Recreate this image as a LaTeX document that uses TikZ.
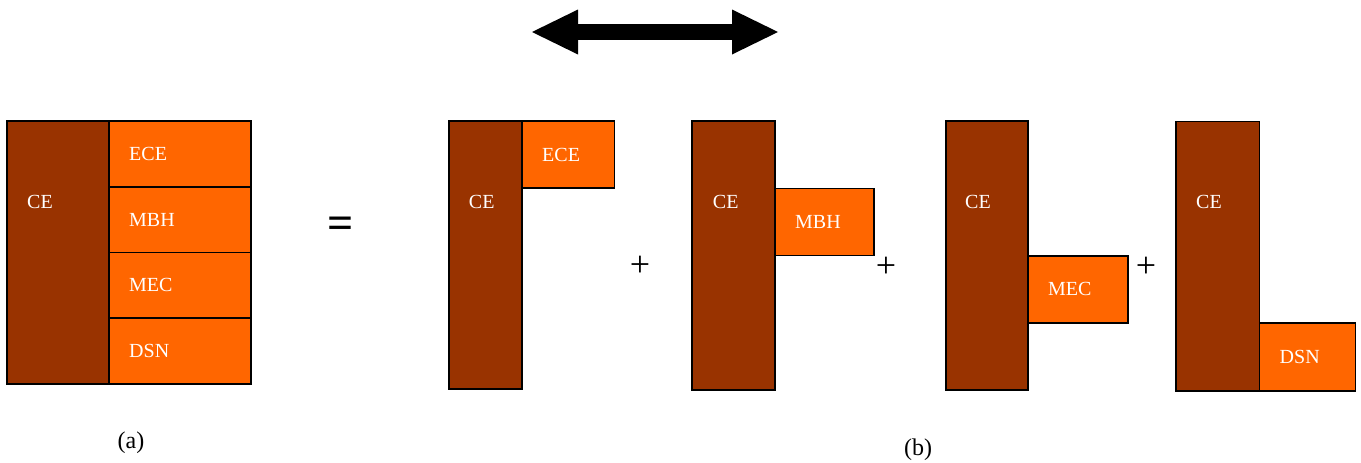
\documentclass[tikz,border=0pt]{standalone}
\usepackage{fontspec}
\setmainfont{Liberation Serif}
\usepackage{xcolor}
\usepackage{tikz}
\usetikzlibrary{arrows.meta, positioning}
\definecolor{ceBrown}{HTML}{993300}
\definecolor{subOrange}{HTML}{FF6600}
\tikzstyle{cebox}    = [rectangle, draw=black, line width=1.8pt, fill=ceBrown, inner sep=0pt, outer sep=0pt]
\tikzstyle{subbox}   = [rectangle, draw=black, line width=1.8pt, fill=subOrange, inner sep=0pt, outer sep=0pt]
\tikzstyle{boxtext}  = [text=white, inner sep=0pt, font=\fontsize{20}{24}\selectfont]
\tikzstyle{optext}   = [inner sep=0pt, font=\fontsize{36}{40}\selectfont]
\tikzstyle{eqtext}   = [inner sep=0pt, font=\fontsize{46}{50}\selectfont\bfseries]
\tikzstyle{caption}  = [inner sep=0pt, font=\fontsize{24}{28}\selectfont]
\tikzstyle{bigarrow} = [line width=16pt, {Triangle[length=46pt,width=45pt,line width=0pt]}-{Triangle[length=46pt,width=45pt,line width=0pt]}]

\begin{document}
\begin{tikzpicture}[x=1pt, y=-1pt]
    \useasboundingbox (0,0) rectangle (1361,463);

    % (a) whole
    \node (ceA)  at (58,252.5) [cebox, minimum width=102pt, minimum height=263pt] {};
    \node (eceA) at (ceA.north east) [subbox, anchor=north west, minimum width=142pt, minimum height=65.75pt] {};
    \node (mbhA) [subbox, below=0pt of eceA, minimum width=142pt, minimum height=65.75pt] {};
    \node (mecA) [subbox, below=0pt of mbhA, minimum width=142pt, minimum height=65.75pt] {};
    \node (dsnA) [subbox, below=0pt of mecA, minimum width=142pt, minimum height=65.75pt] {};

    \node (ceAtxt)  at (40,202) [boxtext] {CE};
    \node (eceAtxt) [boxtext, right=20pt of eceA.west] {ECE};
    \node (mbhAtxt) [boxtext, right=20pt of mbhA.west] {MBH};
    \node (mecAtxt) [boxtext, right=20pt of mecA.west] {MEC};
    \node (dsnAtxt) [boxtext, right=20pt of dsnA.west] {DSN};

    \node (eq) at (340.5,228) [eqtext] {=};

    % (b) parts
    \node (ce1)  at (485.5,255)   [cebox, minimum width=73pt, minimum height=268pt] {};
    \node (ece1) at (ce1.north east) [subbox, anchor=north west, minimum width=92.5pt, minimum height=67pt] {};
    \node (ce2)  at (733.5,255.5) [cebox, minimum width=83pt, minimum height=269pt] {};
    \node (mbh2) at ([yshift=-67.5pt]ce2.north east) [subbox, anchor=north west, minimum width=99pt, minimum height=67pt] {};
    \node (ce3)  at (987,255.5)   [cebox, minimum width=82pt, minimum height=269pt] {};
    \node (mec3) at ([yshift=-134.7pt]ce3.north east) [subbox, anchor=north west, minimum width=100pt, minimum height=67pt] {};
    \node (ce4)  at (1217.75,256.1) [cebox, minimum width=83.5pt, minimum height=269.2pt] {};
    \node (dsn4) at (ce4.south east) [subbox, anchor=south west, minimum width=96pt, minimum height=68pt] {};

    \node (ce1txt)  at (481.7,202) [boxtext] {CE};
    \node (ce2txt)  at (725.7,202) [boxtext] {CE};
    \node (ce3txt)  at (978,202)   [boxtext] {CE};
    \node (ce4txt)  at (1209,202)  [boxtext] {CE};
    \node (ece1txt) [boxtext, right=20pt of ece1.west] {ECE};
    \node (mbh2txt) [boxtext, right=20pt of mbh2.west] {MBH};
    \node (mec3txt) [boxtext, right=20pt of mec3.west] {MEC};
    \node (dsn4txt) [boxtext, right=20pt of dsn4.west] {DSN};

    \node (plus1) at (640,266)  [optext] {+};
    \node (plus2) at (886,267)  [optext] {+};
    \node (plus3) at (1146,267) [optext] {+};

    % shift arrow
    \coordinate (arrL) at (532,32);
    \coordinate (arrR) at (778,32);
    \draw [bigarrow] (arrL) -- (arrR);

    \node (capA) at (131,443) [caption] {(a)};
    \node (capB) at (918,450) [caption] {(b)};
\end{tikzpicture}
\end{document}
